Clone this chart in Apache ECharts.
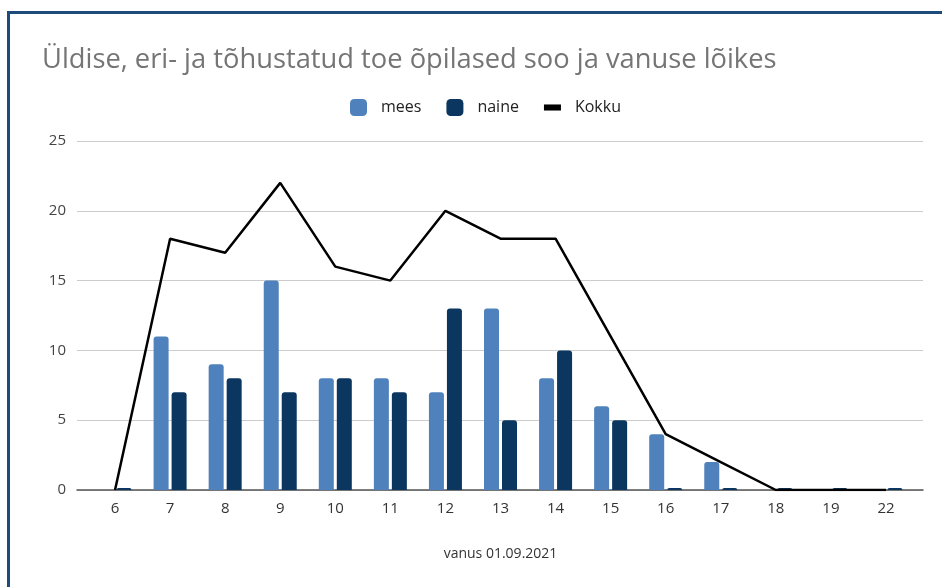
<!DOCTYPE html>
<html>
<head>
<meta charset="utf-8">
<script src="https://cdn.jsdelivr.net/npm/echarts@6/dist/echarts.min.js"></script>
<style>
  html, body { margin: 0; padding: 0; background: #fff; }
  #wrap { position: relative; width: 942px; height: 587px; overflow: hidden; }
  /* raam: ülemine ja vasak serv */
  #frame { position: absolute; left: 7px; top: 11px; width: 1000px; height: 1000px; border: 3px solid #1d4b7b; box-sizing: border-box; }
  #chart { position: absolute; left: 0; top: 0; width: 942px; height: 587px; }
</style>
</head>
<body>
<div id="wrap">
  <div id="frame"></div>
  <div id="chart"></div>
</div>
<script>
// andmed
const ages = ["6", "7", "8", "9", "10", "11", "12", "13", "14", "15", "16", "17", "18", "19", "22"]
const mees = [0, 11, 9, 15, 8, 8, 7, 13, 8, 6, 4, 2, 0, 0, 0]
const naine = [0.15, 7, 8, 7, 8, 7, 13, 5, 10, 5, 0.15, 0.15, 0.15, 0.15, 0.15]
const kokku = [0, 18, 17, 22, 16, 15, 20, 18, 18, 11, 4, 2, 0, 0, 0]
const yTicks = [0, 5, 10, 15, 20, 25]

const font = "'Open Sans', 'Noto Sans', sans-serif"
const chart = echarts.init(document.getElementById("chart"))

const option = {
  animation: false,
  textStyle: { fontFamily: font },
  title: {
    text: "Üldise, eri- ja tõhustatud toe õpilased soo ja vanuse lõikes",
    left: 37,
    top: 42,
    textStyle: { fontSize: 27.3, fontWeight: "normal", color: "#757575", fontFamily: font }
  },
  legend: {
    top: 94,
    left: 345,
    itemGap: 25,
    itemWidth: 17,
    itemHeight: 17,
    textStyle: { fontSize: 16, color: "#222", padding: [0, 0, 0, 9] },
    data: [
      { name: "mees", icon: "roundRect" },
      { name: "naine", icon: "roundRect" },
      { name: "Kokku", icon: "path://M0,0 H14 V5 H0 Z", itemStyle: { color: "#000" } }
    ]
  },
  grid: [
    { left: 87.5, right: 28.5, top: 141, bottom: 97 },
    // laiem ruudustik abijoonte jaoks
    { left: 77, right: 19, top: 141, bottom: 97 }
  ],
  xAxis: [
    {
      type: "category",
      gridIndex: 0,
      data: ages,
      axisLine: { show: false },
      axisTick: { show: false },
      axisLabel: { fontSize: 15, color: "#333", margin: 11 },
      name: "vanus 01.09.2021",
      nameLocation: "middle",
      nameGap: 57,
      nameTextStyle: { fontSize: 14, color: "#333" }
    },
    {
      type: "value",
      gridIndex: 1,
      min: 0,
      max: 1,
      axisLine: { show: true, onZero: true, lineStyle: { color: "#555", width: 1.5 } },
      axisTick: { show: false },
      axisLabel: { show: false },
      splitLine: { show: false }
    }
  ],
  yAxis: [
    {
      type: "value",
      gridIndex: 0,
      min: 0,
      max: 25,
      interval: 5,
      show: false,
      splitLine: { show: false }
    },
    {
      type: "value",
      gridIndex: 1,
      min: yTicks[0],
      max: yTicks[yTicks.length - 1],
      interval: 5,
      axisLine: { show: false },
      axisTick: { show: false },
      axisLabel: { fontSize: 15, color: "#444", margin: 11 },
      splitLine: { lineStyle: { color: "#cccccc", width: 1 } }
    }
  ],
  series: [
    {
      name: "mees",
      type: "bar",
      xAxisIndex: 0,
      yAxisIndex: 0,
      data: mees,
      barWidth: 15,
      barGap: "20%",
      itemStyle: { color: "#4f81bd", borderRadius: [3, 3, 0, 0] }
    },
    {
      name: "naine",
      type: "bar",
      xAxisIndex: 0,
      yAxisIndex: 0,
      data: naine,
      barWidth: 15,
      barGap: "20%",
      itemStyle: { color: "#0b365f", borderRadius: [3, 3, 0, 0] }
    },
    {
      name: "Kokku",
      type: "line",
      xAxisIndex: 0,
      yAxisIndex: 0,
      data: kokku,
      symbol: "none",
      lineStyle: { color: "#000", width: 2.5 },
      itemStyle: { color: "#000" },
      z: 5
    }
  ]
}

chart.setOption(option)
</script>
</body>
</html>
